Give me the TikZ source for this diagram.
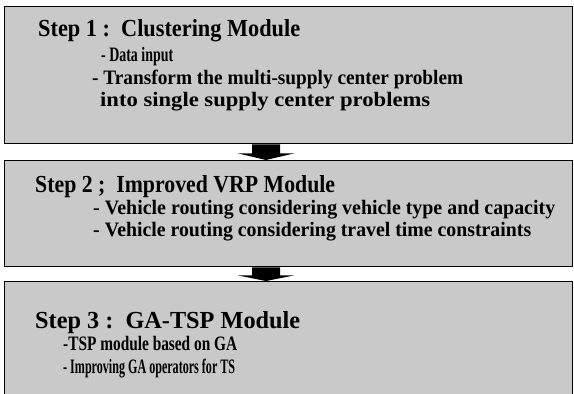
\documentclass[tikz,border=0pt]{standalone}
\usepackage{fontspec}
\setmainfont{Liberation Serif}
\usepackage{graphicx}
\usetikzlibrary{calc}
\newcommand{\fitw}[2]{\resizebox{#1}{\height}{#2}}
\begin{document}
\begin{tikzpicture}[x=1pt,y=-1pt,
  panel/.style={draw=black, line width=1.4pt, fill=black!21, anchor=north west, inner sep=0pt},
  title/.style={anchor=base west, inner sep=0pt, font=\bfseries\fontsize{24.5}{27}\selectfont},
  item/.style={anchor=base west, inner sep=0pt, font=\bfseries\fontsize{20.5}{22}\selectfont},
  blockarrow/.style={fill=black}]
\useasboundingbox (0,0) rectangle (574,394);
\clip (0,0) rectangle (574,394);
% panels
\node[panel, minimum width=568pt, minimum height=137pt] (b1) at (4,6) {};
\node[panel, minimum width=568pt, minimum height=106pt] (b2) at (4,160) {};
\node[panel, minimum width=568pt, minimum height=125pt] (b3) at (4,281) {};
% texts
\node[title] (t1) at (38,36) {\fitw{262pt}{Step 1 :\ \ Clustering Module}};
\node[item] (t1a) at (101,61) {\fitw{72pt}{-\ Data input}};
\node[item] (t1b) at (92,84) {\fitw{371pt}{- Transform the multi-supply center problem}};
\node[item] (t1c) at (100,106) {\fitw{330pt}{into single supply center problems}};
\node[title] (t2) at (35,192) {\fitw{300pt}{Step 2 ;\ \ Improved VRP Module}};
\node[item] (t2a) at (93,214) {\fitw{462pt}{- Vehicle routing considering vehicle type and capacity}};
\node[item] (t2b) at (93,236) {\fitw{438pt}{- Vehicle routing considering travel time constraints}};
\node[title] (t3) at (35,328) {\fitw{265pt}{Step 3 :\ \ GA-TSP Module}};
\node[item] (t3a) at (63,350) {\fitw{174pt}{-TSP module based on GA}};
\node[item] (t3b) at (63,373) {\fitw{172pt}{- Improving GA operators for TS}};
% block arrows
\coordinate (a1) at ($(b1.south west)+(262,0)$);
\coordinate (a1t) at ($(b2.north west)+(262,0)$);
\fill[blockarrow] ($(a1)+(-14,0)$) -- ($(a1)+(14,0)$) -- ($(a1)+(14,9)$) -- ($(a1)+(28,9)$)
  -- (a1t) -- ($(a1)+(-28,9)$) -- ($(a1)+(-14,9)$) -- cycle;
\coordinate (a2) at ($(b2.south west)+(262,0)$);
\coordinate (a2t) at ($(b3.north west)+(262,0)$);
\fill[blockarrow] ($(a2)+(-14,0)$) -- ($(a2)+(14,0)$) -- ($(a2)+(14,8)$) -- ($(a2)+(28,8)$)
  -- (a2t) -- ($(a2)+(-28,8)$) -- ($(a2)+(-14,8)$) -- cycle;
\end{tikzpicture}
\end{document}
